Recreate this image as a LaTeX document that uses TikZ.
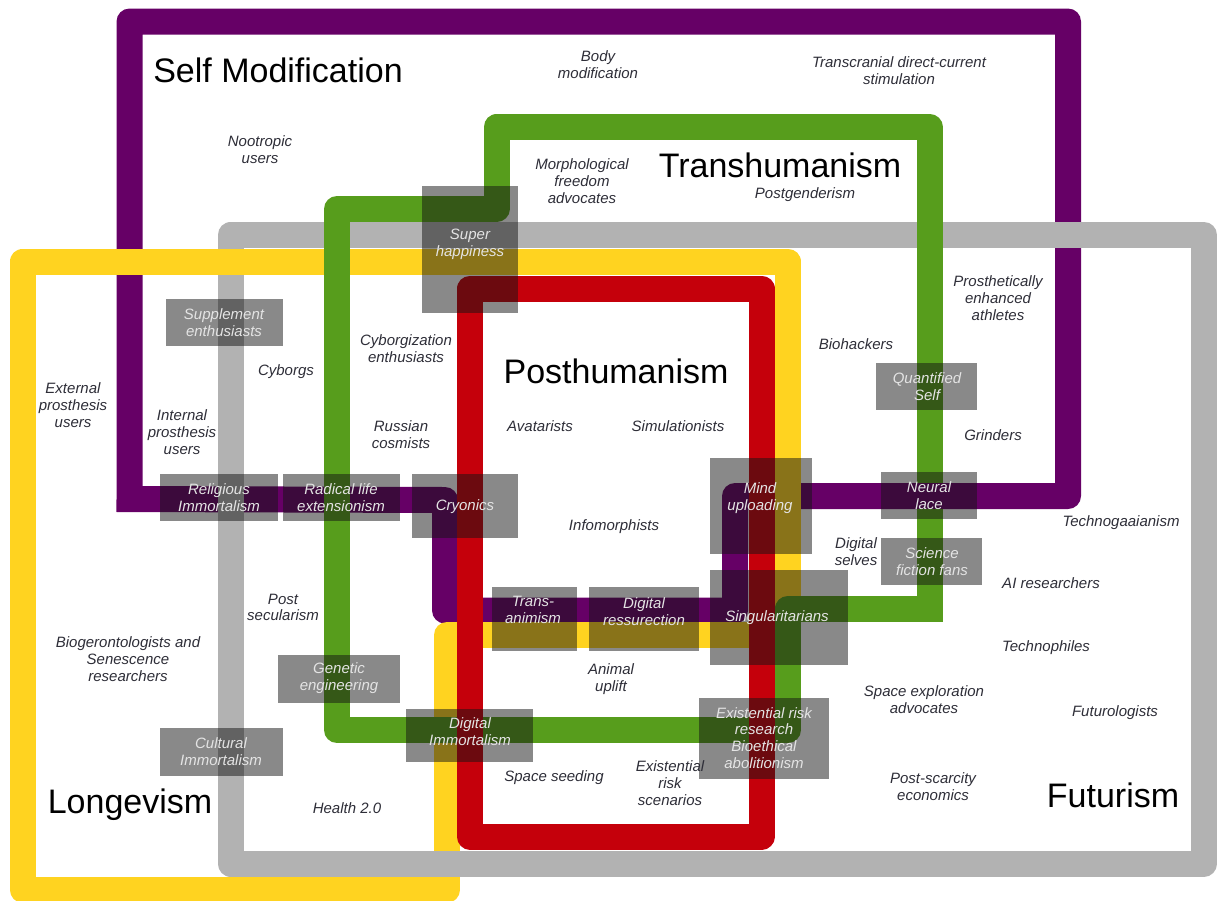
\documentclass[tikz,border=0pt]{standalone}
\usepackage{fontspec}
\setmainfont{Liberation Sans}
\definecolor{cpurple}{HTML}{660066}
\definecolor{cgreen}{HTML}{579D1C}
\definecolor{cyellow}{HTML}{FFD320}
\definecolor{cred}{HTML}{C5000B}
\definecolor{cgray}{HTML}{B2B2B2}
\definecolor{cbox}{HTML}{141414}
\definecolor{ctext}{HTML}{2E2E38}
\definecolor{cboxtext}{HTML}{E4E4E4}
\begin{document}
\begin{tikzpicture}[x=1pt,y=-1pt,
  band/.style={line width=26pt, line join=round},
  purpleband/.style={band, draw=cpurple},
  greenband/.style={band, draw=cgreen},
  yellowband/.style={band, draw=cyellow},
  redband/.style={band, draw=cred},
  grayband/.style={band, draw=cgray},
  gbox/.style={fill=cbox, fill opacity=0.5, draw=none, inner sep=0pt, outer sep=0pt},
  lbl/.style={font=\fontsize{15}{16.8}\selectfont\itshape, text=ctext, align=center, inner sep=0pt},
  blbl/.style={lbl, text=cboxtext},
  ttl/.style={font=\fontsize{34}{40}\selectfont, text=black, anchor=base, inner sep=0pt}]

\useasboundingbox[fill=white] (0,0) rectangle (1217,900);

% Self Modification (purple)
\draw[purpleband, line cap=rect] (129.5,499) -- (129.5,21.5) -- (1068,21.5) -- (1068,496)
  -- (735,496) -- (735,610.5) -- (445,610.5) -- (445,500) -- (129.5,499);
% Futurism (gray)
\draw[grayband] (230.5,235) -- (1204,235) -- (1204,863.5) -- (230.5,863.5) -- cycle;
% Longevism (yellow)
\draw[yellowband] (22.5,261.5) -- (788,261.5) -- (788,635) -- (447,635) -- (447,889.5)
  -- (22.5,889.5) -- cycle;
% gray bottom over yellow
\draw[grayband] (428,863.5) -- (468,863.5);
% Transhumanism (green)
\draw[greenband, line cap=rect] (929.5,608.5) -- (788,608.5) -- (788,730) -- (337,730)
  -- (337,209) -- (496.5,209) -- (496.5,127) -- (929.5,127) -- (929.5,608.5);
% purple over green at Neural lace
\draw[purpleband] (900,496) -- (960,496);
% Posthumanism (red)
\draw[redband] (470,288.5) -- (761.5,288.5) -- (761.5,836.5) -- (470,836.5) -- cycle;

% translucent boxes
\node[gbox, minimum width=96pt, minimum height=127pt] (bsuper) at (470,249.5) {};
\node[gbox, minimum width=117pt, minimum height=47pt] (bsupp) at (224.5,322.5) {};
\node[gbox, minimum width=118pt, minimum height=47pt] (brelig) at (219,497.5) {};
\node[gbox, minimum width=117pt, minimum height=47pt] (bradical) at (341.5,497.5) {};
\node[gbox, minimum width=106pt, minimum height=64pt] (bcryo) at (465,506) {};
\node[gbox, minimum width=102pt, minimum height=96pt] (bmind) at (761,506) {};
\node[gbox, minimum width=101pt, minimum height=47pt] (bquant) at (926.5,386.5) {};
\node[gbox, minimum width=96pt, minimum height=47pt] (bneural) at (929,495.5) {};
\node[gbox, minimum width=101pt, minimum height=47pt] (bscifi) at (931.5,561.5) {};
\node[gbox, minimum width=85pt, minimum height=64pt] (btrans) at (534.5,619) {};
\node[gbox, minimum width=110pt, minimum height=64pt] (bdigres) at (644,619) {};
\node[gbox, minimum width=138pt, minimum height=95pt] (bsing) at (779,617.5) {};
\node[gbox, minimum width=122pt, minimum height=48pt] (bgen) at (339,679) {};
\node[gbox, minimum width=127pt, minimum height=53pt] (bdigimm) at (469.5,735.5) {};
\node[gbox, minimum width=123pt, minimum height=48pt] (bcult) at (221.5,752) {};
\node[gbox, minimum width=130pt, minimum height=81pt] (bexist) at (764,738.5) {};

% box texts
\node[blbl] (tsuper) at (470,244.5) {Super\\happiness};
\node[blbl] (tsupp) at (224,322.5) {Supplement\\enthusiasts};
\node[blbl] (trelig) at (219,498) {Religious\\Immortalism};
\node[blbl] (tradical) at (341,498) {Radical life\\extensionism};
\node[blbl] (tcryo) at (465,507) {Cryonics};
\node[blbl] (tmind) at (760,498.5) {Mind\\uploading};
\node[blbl] (tquant) at (927,386.5) {Quantified\\Self};
\node[blbl] (tneural) at (929,495.5) {Neural\\lace};
\node[blbl] (tscifi) at (932,561.5) {Science\\fiction fans};
\node[blbl] (ttrans) at (533,610) {Trans-\\animism};
\node[blbl] (tdigres) at (644,611.5) {Digital\\ressurection};
\node[blbl] (tsing) at (777,618) {Singularitarians};
\node[blbl] (tgen) at (339,678.5) {Genetic\\engineering};
\node[blbl] (tdigimm) at (470,732) {Digital\\Immortalism};
\node[blbl] (tcult) at (221,752) {Cultural\\Immortalism};
\node[blbl] (texist) at (764,738) {Existential risk\\research\\Bioethical\\abolitionism};

% titles
\node[ttl] (selfmod) at (278,82) {Self Modification};
\node[ttl] (transh) at (780,177) {Transhumanism};
\node[ttl] (posth) at (616,383) {Posthumanism};
\node[ttl] (longev) at (130,813) {Longevism};
\node[ttl] (futur) at (1113,807) {Futurism};

% plain labels
\node[lbl] (body) at (598,65) {Body\\modification};
\node[lbl] (tdcs) at (899,70.5) {Transcranial direct-current\\stimulation};
\node[lbl] (noot) at (260,150) {Nootropic\\users};
\node[lbl] (morph) at (582,181) {Morphological\\freedom\\advocates};
\node[lbl] (postg) at (805,195) {Postgenderism};
\node[lbl] (prosth) at (998,298) {Prosthetically\\enhanced\\athletes};
\node[lbl] (cyborgz) at (406,349) {Cyborgization\\enthusiasts};
\node[lbl] (cyborgs) at (286,372) {Cyborgs};
\node[lbl] (extp) at (73,405) {External\\prosthesis\\users};
\node[lbl] (intp) at (182,432) {Internal\\prosthesis\\users};
\node[lbl] (russ) at (401,434.5) {Russian\\cosmists};
\node[lbl] (avat) at (540,426) {Avatarists};
\node[lbl] (simul) at (678,426) {Simulationists};
\node[lbl] (infom) at (614,527) {Infomorphists};
\node[lbl] (biohack) at (856,344) {Biohackers};
\node[lbl] (grind) at (993,435) {Grinders};
\node[lbl] (techg) at (1121,523) {Technogaaianism};
\node[lbl] (digself) at (856,551.5) {Digital\\selves};
\node[lbl] (airs) at (1051,583) {AI researchers};
\node[lbl] (postsec) at (283,607.5) {Post\\secularism};
\node[lbl] (biog) at (128,659) {Biogerontologists and\\Senescence\\researchers};
\node[lbl] (health) at (347,808) {Health 2.0};
\node[lbl] (animal) at (611,679) {Animal\\uplift};
\node[lbl] (spaceseed) at (554,778) {Space seeding};
\node[lbl] (exscen) at (670,783) {Existential\\risk\\scenarios};
\node[lbl] (techph) at (1046,648) {Technophiles};
\node[lbl] (spaceexp) at (924,700) {Space exploration\\advocates};
\node[lbl] (futlog) at (1115,713) {Futurologists};
\node[lbl] (postsc) at (933,786.5) {Post-scarcity\\economics};
\end{tikzpicture}
\end{document}
